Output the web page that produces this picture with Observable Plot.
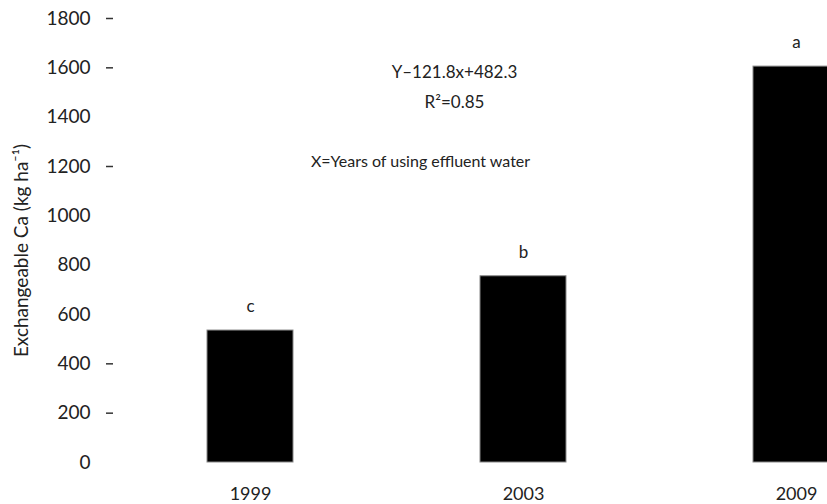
<!DOCTYPE html>
<html>
<head>
<meta charset="utf-8">
<script src="https://cdn.jsdelivr.net/npm/d3@7"></script>
<script src="https://cdn.jsdelivr.net/npm/@observablehq/plot@0.6"></script>
<style>
  html, body { margin: 0; padding: 0; background: #fff; }
  #chart { width: 827px; height: 504px; overflow: hidden; }
</style>
</head>
<body>
<div id="chart"></div>
<script>
const years = ["1999", "2003", "2009"];
const calcium = [535, 755, 1605];
const letters = ["c", "b", "a"];
const yTicks = [0, 200, 400, 600, 800, 1000, 1200, 1400, 1600, 1800];
const dashTicks = [200, 400, 1200, 1600, 1800];
const yLabel = "Exchangeable Ca (kg ha\u207B\u00B9)";
const equation = "Y\u2013121.8x+482.3";
const r2 = "R\u00B2=0.85";
const xNote = "X=Years of using effluent water";

const data = years.map((y, i) => ({year: y, value: calcium[i], letter: letters[i]}));

const font = "Lato, 'DejaVu Sans', sans-serif";
const chart = Plot.plot({
  width: 827,
  height: 504,
  marginLeft: 113,
  marginRight: 0,
  marginTop: 18,
  marginBottom: 42,
  style: {fontFamily: font, fontSize: "16px", color: "#222", background: "#fff"},
  x: {domain: years, range: [205.5, 839.5], paddingInner: 0.686, paddingOuter: 0, label: null},
  y: {domain: [0, 1800], label: null},
  marks: [
    Plot.barY(data, {x: "year", y: "value", fill: "#000", stroke: "#888", strokeWidth: 1}),
    Plot.text(data, {x: "year", y: "value", text: "letter", dy: -24, fontSize: 17, fill: "#222"}),
    Plot.axisY(yTicks, {tickSize: 0, tickPadding: 23, fontSize: 19, tickFormat: d => String(d), label: null}),
    Plot.axisY(dashTicks, {tickSize: 7, tickFormat: () => "", strokeWidth: 1.5, stroke: "#333", label: null}),
    Plot.axisX(years, {tickSize: 0, tickPadding: 25, fontSize: 18, label: null}),
    Plot.text([yLabel], {frameAnchor: "left", dx: -92, dy: 10, rotate: -90, textAnchor: "middle", fontSize: 19, fill: "#222"}),
    Plot.text([equation], {frameAnchor: "top-left", dx: 341, dy: 47, textAnchor: "middle", fontSize: 17, fill: "#222"}),
    Plot.text([r2], {frameAnchor: "top-left", dx: 341, dy: 77, textAnchor: "middle", fontSize: 17, fill: "#222"}),
    Plot.text([xNote], {frameAnchor: "top-left", dx: 307, dy: 137, textAnchor: "middle", fontSize: 16, fill: "#222"})
  ]
});
document.getElementById("chart").appendChild(chart);
</script>
</body>
</html>
